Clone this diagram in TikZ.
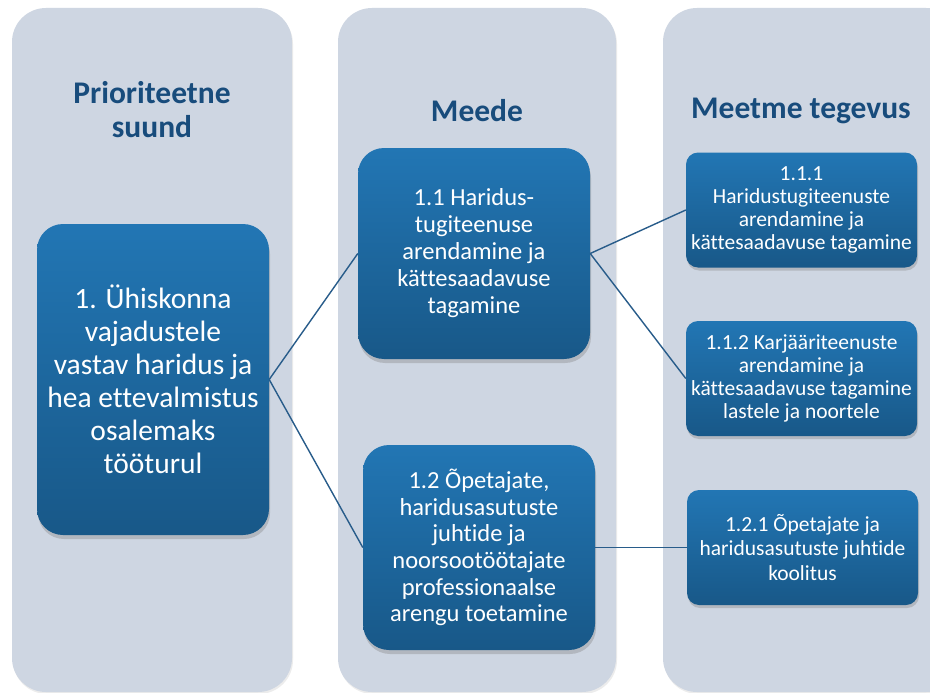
\documentclass[tikz,border=0pt]{standalone}
\usepackage{fontspec}
\setmainfont{Carlito}[Ligatures=NoCommon]
\usetikzlibrary{shadows}
\definecolor{panelbg}{RGB}{206,214,226}
\definecolor{titleblue}{RGB}{24,76,124}
\definecolor{boxtop}{RGB}{34,118,180}
\definecolor{boxbot}{RGB}{24,88,136}
\definecolor{linkblue}{RGB}{40,92,138}
\tikzset{
  panel/.style={fill=panelbg, draw=none, rounded corners=34pt,
    drop shadow={opacity=0.15, shadow xshift=1pt, shadow yshift=-2pt}},
  coltitle/.style={text=titleblue, font=\bfseries\fontsize{31.5}{34}\selectfont, align=center},
  bigbox/.style={rounded corners=26pt, top color=boxtop, bottom color=boxbot, draw=none,
    text=white, align=center, inner sep=0pt,
    drop shadow={opacity=0.35, shadow xshift=1pt, shadow yshift=-4pt}},
  smallbox/.style={rounded corners=12pt, top color=boxtop, bottom color=boxbot, draw=none,
    text=white, align=center, inner sep=0pt, minimum width=231pt, minimum height=115pt,
    font=\fontsize{21.5}{23}\selectfont,
    drop shadow={opacity=0.35, shadow xshift=1pt, shadow yshift=-3pt}},
  link/.style={draw=linkblue, line width=1.4pt}
}
\begin{document}
\begin{tikzpicture}[x=1pt, y=-1pt]
\useasboundingbox (0,0) rectangle (930,693);
\fill[white] (0,0) rectangle (930,693);
% panels
\path[panel] (12,8) rectangle (292,692);
\path[panel] (338,8) rectangle (616,692);
\path[panel] (663,8) rectangle (960,692);
% titles
\node[coltitle] (t1) at (152,110) {Prioriteetne\\suund};
\node[coltitle] (t2) at (477,111) {Meede};
\node[coltitle] (t3) at (801,111) {Meetme tegevus};
% boxes
\node[bigbox, minimum width=232pt, minimum height=311pt, font=\fontsize{29.5}{33}\selectfont] (p1) at (153,379.5)
  {1. Ühiskonna\\vajadustele\\vastav haridus ja\\hea ettevalmistus\\osalemaks\\tööturul};
\node[bigbox, minimum width=232pt, minimum height=211pt, font=\fontsize{24.5}{27}\selectfont] (m11) at (474,253.5)
  {1.1 Haridus-\\tugiteenuse\\arendamine ja\\kättesaadavuse\\tagamine};
\node[bigbox, minimum width=232pt, minimum height=205pt, font=\fontsize{24.5}{26.6}\selectfont] (m12) at (479,547.5)
  {1.2 Õpetajate,\\haridusasutuste\\juhtide ja\\noorsootöötajate\\professionaalse\\arengu toetamine};
\node[smallbox] (a111) at (801.5,210)
  {1.1.1\\Haridustugiteenuste\\arendamine ja\\kättesaadavuse tagamine};
\node[smallbox] (a112) at (801.5,378.5)
  {1.1.2 Karjääriteenuste\\arendamine ja\\kättesaadavuse tagamine\\lastele ja noortele};
\node[smallbox, font=\fontsize{21.5}{24.5}\selectfont] (a121) at (802.5,547.5)
  {1.2.1 Õpetajate ja\\haridusasutuste juhtide\\koolitus};
% connectors
\draw[link] (p1.east) -- (m11.west);
\draw[link] (p1.east) -- (m12.west);
\draw[link] (m11.east) -- (a111.west);
\draw[link] (m11.east) -- (a112.west);
\draw[link] (m12.east) -- (a121.west);
\end{tikzpicture}
\end{document}
